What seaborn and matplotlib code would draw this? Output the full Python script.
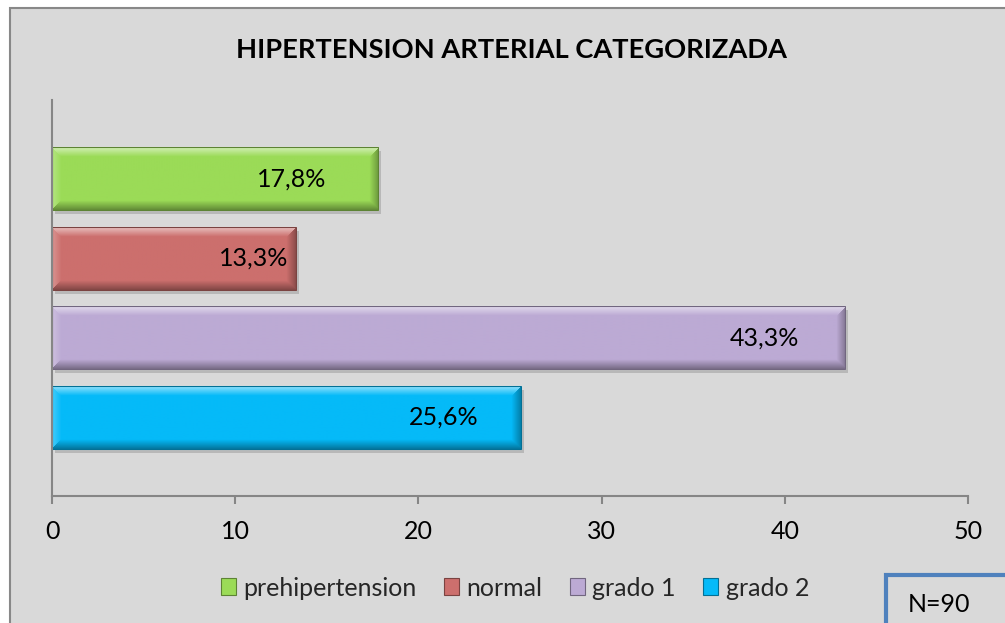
import numpy as np
import pandas as pd
import matplotlib
matplotlib.use("Agg")
import matplotlib.pyplot as plt
import seaborn as sns
from matplotlib.patches import Rectangle, Patch
from matplotlib import colors as mcolors
from matplotlib.transforms import offset_copy

# ---------------- data ----------------
categories = ["prehipertension", "normal", "grado 1", "grado 2"]
values = [17.8, 13.3, 43.3, 25.6]
bar_colors = ["#9bdb57", "#cc6f6d", "#bcaad4", "#05baf8"]
x_ticks = [0, 10, 20, 30, 40, 50]
label_centers = [13.1, 11.0, 38.9, 21.4]
title_text = "HIPERTENSION ARTERIAL CATEGORIZADA"
n_note = "N=90"

sns.set_theme(style="white")
plt.rcParams["font.family"] = ["Lato", "DejaVu Sans"]

FS = 18
W, H = 1005, 623
fig = plt.figure(figsize=(W / 100, H / 100), dpi=100, facecolor="white")

# chart area frame
fig.patches.append(Rectangle((10 / W, -0.1), 1.2, (1 - 8 / H) + 0.1,
                             transform=fig.transFigure, facecolor="#d9d9d9",
                             edgecolor="#888888", lw=1.5, zorder=-10))

ax = fig.add_axes([52 / W, 1 - 496 / H, (968 - 52) / W, (496 - 100) / H])
ax.set_facecolor("none")
ax.set_zorder(1)

df = pd.DataFrame({"categoria": categories, "porcentaje": values})
sns.barplot(data=df, x="porcentaje", y="categoria", hue="categoria",
            palette=bar_colors, orient="h", width=0.79, legend=False,
            saturation=1, ax=ax)

ax.set_xlim(0, 50)
ax.set_ylim(3.99, -0.99)


def bevel_image(color, wpx, hpx, b=9):
    base = np.array(mcolors.to_rgb(color))
    rows = np.arange(hpx)[:, None] * np.ones((1, wpx))
    cols = np.ones((hpx, 1)) * np.arange(wpx)[None, :]
    d = np.stack([rows, hpx - 1 - rows, cols, wpx - 1 - cols])
    which = np.argmin(d, axis=0)
    dmin = np.min(d, axis=0)
    t = np.clip(1 - dmin / b, 0, 1)
    img = np.ones((hpx, wpx, 3)) * base
    amounts = [0.55, -0.35, 0.25, -0.30]
    for k, a in enumerate(amounts):
        m = (which == k) & (dmin < b)
        f = a * t[m]
        if a > 0:
            img[m] = img[m] + (1 - img[m]) * f[:, None]
        else:
            img[m] = img[m] * (1 + f[:, None])
    return np.clip(img, 0, 1)


fig.canvas.draw()
shadow_tr = offset_copy(ax.transData, fig=fig, x=3, y=-4, units="dots")
for i, p in enumerate(list(ax.patches)):
    x0, y0, w, h = p.get_x(), p.get_y(), p.get_width(), p.get_height()
    (px0, py0), (px1, py1) = ax.transData.transform([(x0, y0), (x0 + w, y0 + h)])
    wpx, hpx = int(abs(px1 - px0)), int(abs(py1 - py0))
    col = mcolors.to_hex(p.get_facecolor())
    img = bevel_image(col, max(wpx, 2), max(hpx, 2))
    ax.imshow(img, extent=(x0, x0 + w, y0 + h, y0), aspect="auto",
              interpolation="bilinear", zorder=2.5)
    ax.add_patch(Rectangle((x0, y0), w, h, transform=shadow_tr,
                           facecolor="black", alpha=0.15, lw=0, zorder=1))
    dark = np.array(mcolors.to_rgb(col)) * 0.6
    ax.add_patch(Rectangle((x0, y0), w, h, facecolor="none",
                           edgecolor=dark, lw=0.8, zorder=2.6))

ax.set_xlim(0, 50)
ax.set_ylim(3.99, -0.99)

for i, v in enumerate(values):
    lab = f"{v:.1f}".replace(".", ",") + "%"
    ax.text(label_centers[i], i, lab, ha="center", va="center",
            fontsize=FS, color="black", zorder=4)

for s in ["top", "right"]:
    ax.spines[s].set_visible(False)
for s in ["left", "bottom"]:
    ax.spines[s].set_color("#868686")
    ax.spines[s].set_linewidth(1.5)
    ax.spines[s].set_zorder(5)

ax.set_xticks(x_ticks)
ax.set_xticklabels([str(t) for t in x_ticks])
ax.tick_params(axis="x", length=5.8, width=1.5, color="#868686",
               direction="out", labelsize=FS, pad=11.5, labelcolor="black",
               bottom=True)
ax.tick_params(axis="y", left=False, labelleft=False)
ax.set_xlabel("")
ax.set_ylabel("")

fig.text(511 / W, 1 - 50 / H, title_text, ha="center", va="center",
         fontsize=19.6, fontweight="bold", color="black")

handles = [Patch(facecolor=c, edgecolor=np.array(mcolors.to_rgb(c)) * 0.6, lw=0.8)
           for c in bar_colors]
fig.legend(handles, categories, loc="center",
           bbox_to_anchor=(515 / W, 1 - 588 / H), ncol=4, frameon=False,
           fontsize=FS, handlelength=0.6, handleheight=0.65,
           handletextpad=0.3, columnspacing=1.1)

fig.patches.append(Rectangle((886 / W, -0.1), 0.2, (1 - 575 / H) + 0.1,
                             transform=fig.transFigure, facecolor="#d9d9d9",
                             edgecolor="#4f81bd", lw=3, zorder=3))
fig.text(939 / W, 1 - 605 / H, n_note, ha="center", va="center",
         fontsize=FS, color="black", zorder=4)

fig.savefig("out.png", dpi=100, facecolor="white")
